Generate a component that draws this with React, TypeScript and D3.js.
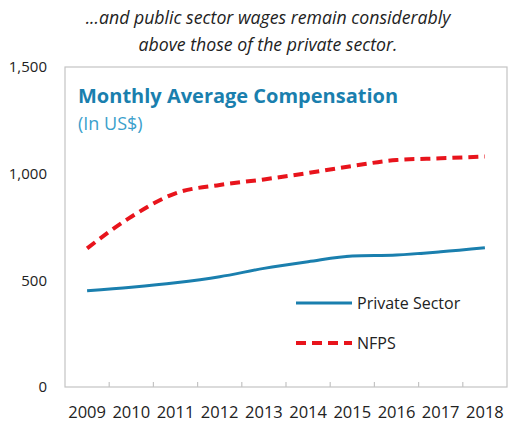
import React from "react";
import * as d3 from "d3";

const years = ["2009", "2010", "2011", "2012", "2013", "2014", "2015", "2016", "2017", "2018"];
const privateSector = [451, 468, 489, 517, 556, 587, 614, 619, 634, 653];
const nfps = [650, 798, 908, 947, 973, 1003, 1036, 1064, 1072, 1080];
const yTicks = [0, 500, 1000, 1500];

const W = 524;
const H = 424;
const margin = { top: 67, right: 17, bottom: 37, left: 65 };
const FONT = "'Open Sans', 'Noto Sans', sans-serif";
const BLUE = "#1a7fae";
const RED = "#e8141c";

export default function App() {
  const innerW = W - margin.left - margin.right;
  const innerH = H - margin.top - margin.bottom;

  const x = d3.scaleBand<string>().domain(years).range([0, innerW]);
  const y = d3.scaleLinear().domain([0, 1500]).range([innerH, 0]);
  const cx = (d: string) => (x(d) ?? 0) + x.bandwidth() / 2;

  const line = d3
    .line<number>()
    .x((_, i) => cx(years[i]))
    .y(d => y(d))
    .curve(d3.curveMonotoneX);

  const fmt = d3.format(",");

  return (
    <svg
      width={W}
      height={H}
      style={{ position: "absolute", left: 0, top: 0, background: "#fff" }}
      fontFamily={FONT}
    >
      <text x={268} y={24} textAnchor="middle" fontSize={17.7} fontStyle="italic" fill="#222">
        ...and public sector wages remain considerably
      </text>
      <text x={268} y={51} textAnchor="middle" fontSize={17.7} fontStyle="italic" fill="#222">
        above those of the private sector.
      </text>

      <g transform={`translate(${margin.left},${margin.top})`}>
        <rect x={0} y={0} width={innerW} height={innerH} fill="none" stroke="#c4c4c4" strokeWidth={1.2} />

        {years.slice(1).map(d => (
          <line key={d} x1={x(d)} x2={x(d)} y1={innerH} y2={innerH - 5} stroke="#c4c4c4" strokeWidth={1.2} />
        ))}

        {yTicks.map(t => (
          <text key={t} x={-18} y={y(t)} dy="0.35em" textAnchor="end" fontSize={15} fill="#222">
            {fmt(t)}
          </text>
        ))}

        {years.map(d => (
          <text key={d} x={cx(d)} y={innerH + 30.5} textAnchor="middle" fontSize={16.5} fill="#222">
            {d}
          </text>
        ))}

        <path d={line(privateSector) ?? ""} fill="none" stroke={BLUE} strokeWidth={3} />
        <path
          d={line(nfps) ?? ""}
          fill="none"
          stroke={RED}
          strokeWidth={4}
          strokeDasharray="10,6"
        />

        <text x={13} y={36} fontSize={20} fontWeight="bold" fill={BLUE}>
          Monthly Average Compensation
        </text>
        <text x={13} y={63} fontSize={18} fill="#3a9fcc">
          (In US$)
        </text>

        <line x1={231} x2={287} y1={236} y2={236} stroke={BLUE} strokeWidth={3} />
        <text x={292} y={236} dy="0.35em" fontSize={16} fill="#222">
          Private Sector
        </text>
        <line x1={231} x2={287} y1={276} y2={276} stroke={RED} strokeWidth={4} strokeDasharray="10,6" />
        <text x={292} y={276} dy="0.35em" fontSize={16} fill="#222">
          NFPS
        </text>
      </g>
    </svg>
  );
}
